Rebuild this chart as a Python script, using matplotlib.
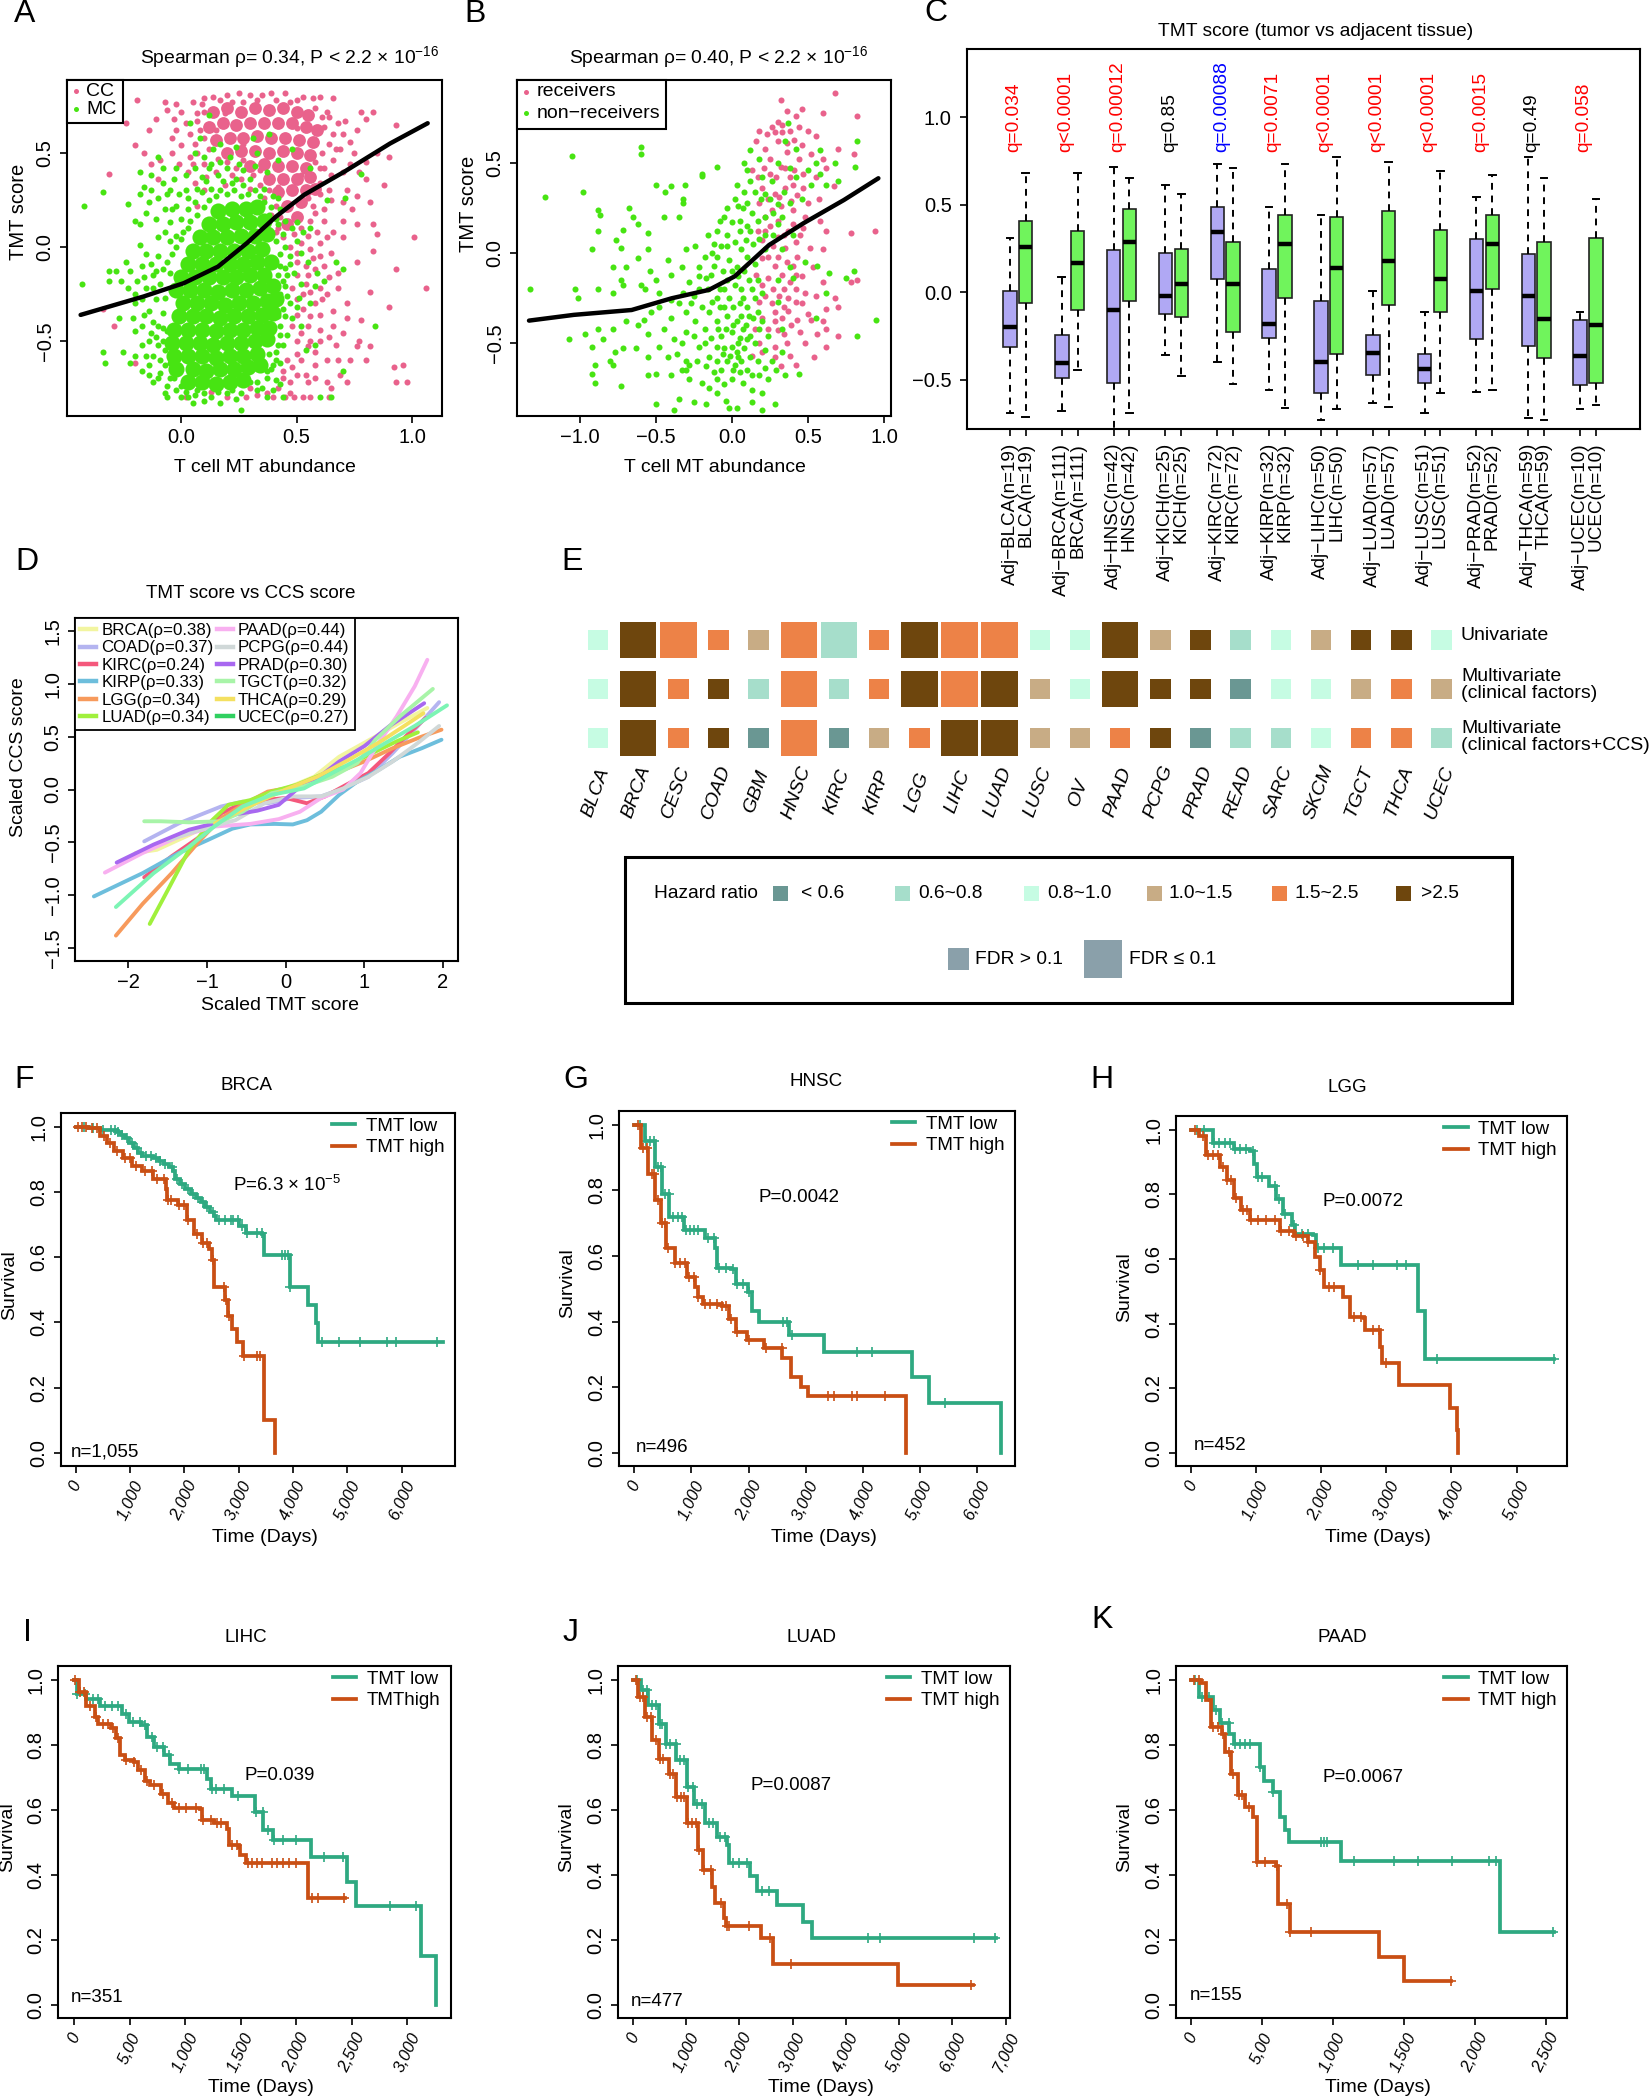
"""
Recreates the TMT score multi-panel figure (scatter, boxplot, heatmap, survival)
"""
import matplotlib
matplotlib.use('Agg')
import matplotlib.pyplot as plt
from matplotlib.patches import Rectangle
import numpy as np

plt.rcParams['font.family'] = ['Liberation Sans', 'DejaVu Sans']
plt.rcParams['mathtext.default'] = 'regular'
plt.rcParams['axes.unicode_minus'] = True

PINK = '#E9628C'
GREEN = '#47E412'
TEAL = '#2EA981'
ORANGE = '#C94F14'

# ---- Panel A, points read by eye (x, y) ----
a_cc_core = [(.14, .72), (.2, .74), (.26, .72), (.32, .74), (.38, .73), (.44, .74), (.5, .72), (.55, .7),
             (.12, .64), (.18, .66), (.24, .65), (.3, .66), (.36, .66), (.42, .66), (.48, .66), (.54, .64), (.59, .62),
             (.15, .57), (.21, .58), (.27, .58), (.33, .59), (.39, .58), (.45, .58), (.51, .57), (.57, .56),
             (.2, .5), (.26, .51), (.32, .51), (.38, .5), (.44, .51), (.5, .5), (.56, .49),
             (.3, .43), (.36, .44), (.42, .43), (.48, .43), (.54, .42), (.38, .36), (.44, .36), (.5, .36), (.56, .37),
             (.42, .29), (.48, .3), (.54, .3), (.58, .31), (.46, .22), (.52, .24), (.5, .16), (.46, .12)]
a_cc = [(-.19, .78), (-.07, .77), (-.06, .73), (-.02, .76), (.05, .77), (.09, .76), (.2, .81), (.25, .82), (.3, .81),
        (.35, .81), (.39, .82), (.45, .82), (.5, .78), (.57, .79), (.6, .8), (.66, .79), (.63, .72), (.78, .72),
        (.83, .72), (.8, .68), (-.24, .66), (-.02, .62), (.02, .66), (.07, .67), (.64, .69), (.68, .66), (.7, .6),
        (.73, .56), (.69, .52), (.75, .5), (.85, .5), (.93, .65), (.9, .48), (-.2, .54), (-.16, .5), (-.31, .39),
        (-.13, .44), (-.09, .46), (-.04, .5), (-.1, .36), (.07, .5), (.1, .44), (.66, .46), (.62, .42), (.7, .4),
        (.77, .4), (.8, .36), (.82, .24), (.88, .33), (.6, .28), (.65, .25), (.7, .24), (.74, .2), (.76, .12),
        (.58, .18), (.62, .14), (.66, .08), (.7, .05), (.55, .06), (.6, .02), (.65, -.03), (.52, .02), (.57, -.06),
        (.62, -.1), (.68, -.14), (.55, -.15), (.5, -.08), (1.01, .05), (.83, -.02), (.93, -.12), (.76, -.08),
        (.54, -.2), (.6, -.22), (.68, -.22), (.72, -.3), (1.06, -.22), (.82, -.24), (.5, -.28), (.58, -.3),
        (.6, -.36), (.66, -.34), (.72, -.38), (.78, -.39), (.55, -.42), (.6, -.44), (.64, -.48), (.77, -.5),
        (.76, -.53), (.5, -.5), (.56, -.5), (.82, -.53), (.5, -.57), (.52, -.6), (.55, -.53), (.63, -.6),
        (.68, -.6), (.73, -.6), (.8, -.6), (.58, -.63), (.92, -.64), (.96, -.63), (.54, -.68), (.44, -.7),
        (.47, -.72), (.55, -.72), (.63, -.72), (.65, -.75), (.93, -.72), (.98, -.72), (.42, -.75), (.47, -.78),
        (.4, -.8), (.45, -.8), (.49, -.8), (.53, -.8), (.56, -.8), (.64, -.8), (.13, -.77), (.2, -.8), (.28, -.8),
        (.33, -.79), (.37, -.78), (-.34, -.33), (-.29, -.42), (-.2, -.62), (.02, -.8), (.3, -.75), (.03, .4),
        (.06, .34), (.1, .3), (.07, .22), (.6, .34), (.64, .3), (.52, .38), (.42, .1), (.44, .05), (.47, 0)]
a_cc2 = [(.1, .79), (.14, .8), (.17, .78), (.22, .77), (.27, .77), (.33, .78), (.41, .78), (.47, .77), (.53, .8),
         (.58, .74), (.61, .69), (.62, .64), (.66, .6), (.64, .55), (.61, .5), (.65, .38), (.6, .42), (.58, .45),
         (.1, .72), (.07, .71), (.04, .6), (.08, .62), (.1, .58), (.06, .55), (.12, .52), (.16, .47), (.2, .45),
         (.24, .42), (.27, .46), (.22, .38), (.26, .36), (.31, .38), (.34, .33), (.38, .3), (.3, .31), (.36, .26),
         (.41, .22), (.39, .17), (.43, .16), (.41, .08), (.55, .26), (.57, .22), (.62, .2), (.56, .14), (.52, .1),
         (.49, .07), (.59, .08), (.63, .05), (.56, -.01), (.5, -.03), (.54, -.1), (.6, -.05), (.64, -.16), (.58, -.12),
         (.5, -.15), (.53, -.25), (.56, -.24), (.61, -.28), (.63, -.25), (.48, -.22), (.5, -.36), (.53, -.33),
         (.56, -.37), (.48, -.42), (.52, -.46), (.58, -.56), (.6, -.5), (.67, -.52), (.7, -.46), (.48, -.64),
         (.5, -.68), (.58, -.7), (.46, -.6), (.44, -.66), (.72, -.72), (.69, -.68), (.72, .3), (.73, .44), (.67, .52),
         (.71, .67), (.76, .62), (.8, .45), (.7, .14), (.76, .27), (.83, .12), (.85, .07), (.9, -.32), (.66, -.42),
         (-.14, .62), (-.11, .68), (-.03, .68), (.0, .72), (-.04, .58), (.0, .54), (.04, .48), (-.01, .44), (.05, .44),
         (.11, .37), (.15, .4), (.19, .33), (.42, .32), (.34, .41), (.27, .55), (.15, .62), (.19, .71), (.5, .63)]
a_mc_core = [(.03, -.72), (.09, -.72), (.15, -.73), (.21, -.72), (.27, -.71),
             (-.02, -.65), (.05, -.65), (.11, -.66), (.17, -.65), (.23, -.65), (.29, -.64), (.34, -.63),
             (-.03, -.58), (.03, -.58), (.09, -.58), (.15, -.59), (.21, -.58), (.27, -.58), (.33, -.57),
             (-.04, -.51), (.02, -.51), (.08, -.51), (.14, -.52), (.2, -.51), (.26, -.51), (.32, -.5), (.37, -.49),
             (-.03, -.44), (.03, -.44), (.09, -.44), (.15, -.45), (.21, -.44), (.27, -.44), (.33, -.43), (.38, -.43),
             (-.01, -.37), (.05, -.37), (.11, -.37), (.17, -.38), (.23, -.37), (.29, -.37), (.35, -.36), (.4, -.35),
             (.01, -.3), (.07, -.3), (.13, -.3), (.19, -.31), (.25, -.3), (.31, -.3), (.37, -.29), (.41, -.28),
             (-.02, -.23), (.04, -.23), (.1, -.23), (.16, -.24), (.22, -.23), (.28, -.23), (.34, -.22), (.4, -.21),
             (.0, -.16), (.06, -.16), (.12, -.16), (.18, -.16), (.24, -.16), (.3, -.15), (.36, -.15),
             (.03, -.09), (.09, -.09), (.15, -.09), (.21, -.09), (.27, -.09), (.33, -.08), (.39, -.08),
             (.05, -.02), (.11, -.02), (.17, -.02), (.23, -.02), (.29, -.02), (.35, -.01),
             (.08, .05), (.14, .05), (.2, .05), (.26, .06), (.32, .06), (.37, .07),
             (.12, .12), (.18, .12), (.24, .13), (.3, .13), (.36, .14), (.16, .19), (.22, .2), (.28, .2), (.33, .21)]
a_mc = [(-.42, .22), (-.34, .29), (-.43, -.2), (-.31, -.13), (-.31, -.18), (-.28, -.13), (-.26, -.18), (-.24, -.08),
        (-.2, -.25), (-.22, -.13), (-.17, -.1), (-.15, -.04), (-.2, -.3), (-.17, -.28), (-.27, -.38), (-.34, -.56),
        (-.33, -.62), (-.25, -.56), (-.22, -.62), (-.2, -.45), (-.21, -.38), (-.17, -.42), (-.14, -.5), (-.14, -.34),
        (-.12, -.22), (-.12, -.15), (-.1, -.05), (-.1, .05), (-.18, .01), (-.18, .12), (-.15, .18), (-.2, .14),
        (-.23, .23), (-.18, .28), (-.16, .32), (-.13, .3), (-.1, .26), (-.14, .24), (-.18, .4), (-.13, .38),
        (-.08, .34), (-.11, .15), (-.07, .2), (-.05, .13), (-.07, .08), (-.05, .03), (-.08, .42), (-.1, .48),
        (-.06, .28), (-.03, .36), (-.02, .22), (.0, .15), (.02, .3), (.03, .1), (.06, .42), (.09, .37), (.13, .44),
        (.16, .38), (.2, .42), (.24, .36), (.25, .44), (.3, .36), (.33, .5), (.38, .6), (.14, .52), (.24, .53),
        (.08, .58), (.04, .66), (.12, .7), (.36, .31), (.4, .27), (.43, .2), (.45, .14), (.42, .12), (.48, .1),
        (.5, .03), (.47, -.05), (.52, -.03), (.45, -.11), (.44, -.18), (.49, -.14), (.43, -.25), (.47, -.3),
        (.44, -.33), (.48, -.38), (.43, -.42), (.46, -.47), (.44, -.52), (.41, -.56), (.43, -.62), (.39, -.65),
        (.37, -.7), (.41, -.71), (.35, -.75), (.43, -.73), (.4, -.63), (.56, .42), (.63, .25), (.78, .39),
        (.71, .26), (.56, .1), (.67, -.08), (.7, -.12), (.59, -.14), (.58, -.21), (.62, -.18), (.56, -.3),
        (.52, -.42), (.58, -.52), (.84, -.42), (.52, -.2), (.7, -.66), (-.2, -.58), (-.12, -.58), (-.17, -.66),
        (-.14, -.63), (-.1, -.52), (-.09, -.6), (-.12, -.72), (-.09, -.67), (-.07, -.78), (-.05, -.7), (-.02, -.76),
        (-.06, -.8), (.0, -.8), (.03, -.8), (.06, -.79), (.05, -.83), (.1, -.78), (.1, -.82), (.17, -.83),
        (.2, -.78), (.26, -.78), (.24, -.81), (.26, -.87), (.33, -.76), (.37, -.8), (.4, -.76), (.44, -.8),
        (.65, -.8), (.6, -.8), (-.06, -.45), (-.08, -.35), (-.07, -.27), (-.05, -.14), (-.08, -.12), (-.1, -.42),
        (-.05, -.62), (-.07, -.55)]
a_mc2 = [(-.23, -.22), (-.19, -.18), (-.16, -.16), (-.13, -.09), (-.11, -.13), (-.15, -.22), (-.11, -.28), (-.09, -.2),
         (-.16, -.36), (-.12, -.4), (-.08, -.43), (-.13, -.46), (-.17, -.52), (-.11, -.48), (-.08, -.5), (-.05, -.52),
         (-.15, -.58), (-.07, -.63), (-.14, -.68), (-.1, -.7), (-.06, -.74), (-.03, -.7), (.0, -.74), (.02, -.77),
         (.07, -.76), (.13, -.8), (.16, -.77), (.22, -.76), (.3, -.72), (.33, -.72), (.37, -.66), (.41, -.6), (.38, -.57),
         (.42, -.52), (.39, -.5), (.43, -.47), (.4, -.43), (.45, -.37), (.42, -.37), (.46, -.26), (.45, -.21), (.42, -.15),
         (.46, -.15), (.43, -.1), (.47, -.09), (.43, -.04), (.45, .0), (.41, .03), (.44, .07), (.41, .15), (.39, .21),
         (.42, .26), (.36, .24), (.38, .17), (-.06, -.08), (-.04, -.04), (-.02, .0), (.0, .04), (.01, .08), (-.02, .06),
         (.04, .14), (.07, .17), (.03, .2), (.06, .24), (.1, .21), (.12, .25), (.15, .27), (.09, .29), (.13, .31),
         (.17, .3), (.2, .28), (.23, .3), (.26, .27), (.29, .28), (.32, .3), (.34, .27), (.18, .35), (.22, .34),
         (.27, .33), (.11, .35), (.07, .31), (.03, .26), (-.01, .28), (-.04, .2), (.12, .42), (.17, .45), (.21, .48),
         (.27, .41), (.32, .43), (.37, .4), (.1, .48), (.06, .5), (.17, .55), (.42, .46), (.48, .52), (.31, .58),
         (.02, .38), (-.02, .42), (-.05, .3), (.5, .13), (.53, .08), (.55, -.08), (.51, -.27), (.5, -.32), (.54, -.55)]

# ---- Panel B ----
b_rec = [(.68, .89), (.32, .85), (.46, .8), (.6, .78), (.36, .79), (.3, .73), (.33, .71), (.42, .76), (.18, .68),
         (.26, .7), (.33, .67), (.41, .63), (.55, .65), (.5, .68), (.82, .76), (.7, .58), (.8, .55), (.16, .62),
         (.22, .58), (.3, .62), (.36, .56), (.44, .52), (.52, .55), (.6, .52), (.13, .46), (.17, .42), (.25, .44),
         (.32, .48), (.38, .42), (.47, .44), (.55, .42), (.62, .47), (.67, .37), (.2, .36), (.28, .33), (.35, .36),
         (.43, .32), (.5, .28), (.57, .3), (.18, .28), (.26, .24), (.32, .26), (.4, .24), (.48, .2), (.58, .18),
         (.22, .2), (.3, .18), (.37, .12), (.45, .1), (.62, .12), (.17, .12), (.2, .07), (.27, .04), (.35, .03),
         (.43, -.02), (.6, .02), (.78, .11), (.94, .12), (.2, -.03), (.28, -.07), (.33, -.12), (.4, -.07), (.46, -.13),
         (.53, -.08), (.16, -.12), (.2, -.18), (.27, -.2), (.34, -.2), (.42, -.2), (.48, -.22), (.78, -.16), (.82, -.15),
         (.18, -.27), (.26, -.28), (.34, -.3), (.42, -.27), (.37, -.32), (.5, -.34), (.62, -.31), (.7, -.3), (.2, -.36),
         (.28, -.38), (.43, -.37), (.52, -.37), (.6, -.38), (.15, -.42), (.3, -.43), (.62, -.42), (.56, -.45),
         (.18, -.5), (.28, -.52), (.36, -.5), (.48, -.5), (.7, -.46), (.62, -.52), (.13, -.57), (.2, -.55), (.28, -.58),
         (.38, -.57), (.54, -.58), (.32, -.63), (.42, -.62)]
b_rec2 = [(.23, .66), (.28, .67), (.38, .68), (.44, .7), (.46, .6), (.36, .61), (.25, .52), (.21, .47), (.29, .42),
          (.35, .47), (.41, .46), (.4, .38), (.47, .36), (.24, .3), (.31, .31), (.39, .29), (.22, .12), (.25, .15),
          (.3, .09), (.34, .1), (.4, .16), (.42, .06), (.47, .14), (.51, .03), (.24, -.02), (.3, -.02), (.36, -.05),
          (.42, -.12), (.38, -.16), (.31, -.24), (.24, -.14), (.22, -.24), (.37, -.25), (.46, -.28), (.28, -.33),
          (.33, -.36), (.39, -.4), (.24, -.42), (.45, -.44), (.34, -.45), (.55, -.24), (.6, -.16), (.68, -.25)]
b_non = [(-.6, .59), (-.6, .55), (-1.05, .54), (-.98, .34), (-1.23, .31), (-.5, .38), (-.4, .37), (-.31, .38),
         (-.32, .28), (-.32, .3), (-.2, .44), (-.2, .43), (-.1, .48), (-.44, .34), (-.45, .2), (-.35, .2),
         (-.88, .24), (-.87, .21), (-.68, .25), (-.62, .16), (-.65, .2), (-.72, .13), (-.88, .12), (-.76, .07),
         (-.73, .03), (-.55, .11), (-.92, .02), (-.55, .02), (-.62, -.03), (-.7, -.08), (-.78, -.08), (-.73, -.15),
         (-1.33, -.2), (-1.03, -.2), (-1.01, -.25), (-.88, -.2), (-.78, -.22), (-.72, -.18), (-.6, -.18), (-.57, -.2),
         (-.48, -.22), (-.4, -.12), (-.42, -.04), (-.33, -.08), (-.28, -.16), (-.22, -.08), (-.18, -.02), (-.12, .05),
         (-.1, .12), (-.08, .18), (-.16, .1), (-.05, .2), (-.03, .25), (.02, .3), (.03, .38), (.08, .34), (.1, .28),
         (.12, .4), (.18, .52), (.15, .34), (.2, .42), (.08, .5), (.12, .57), (.3, .5), (.37, .72), (.35, .62),
         (.42, .58), (.55, .5), (.58, .57), (.82, .62), (.62, .38), (.7, .4), (.68, .5), (.81, .48), (.25, .3), (.22, .2),
         (.3, .16), (.38, .28), (.05, .18), (.1, .15), (.18, .08), (.22, .1), (.27, .1), (-.03, .1), (.02, .06), (.06, .02),
         (.1, -.02), (.15, -.06), (.03, -.08), (-.02, -.04), (-.06, -.1), (-.1, -.02), (-.14, -.12), (-.03, -.15),
         (.02, -.18), (.06, -.2), (-.08, -.2), (-.16, -.2), (-.25, -.24), (-.2, -.3), (-.13, -.27), (-.08, -.3),
         (-.02, -.25), (.05, -.28), (.1, -.3), (.15, -.25), (.2, -.22), (-.35, -.28), (-.3, -.33), (-.24, -.38),
         (-.18, -.42), (-.1, -.38), (-.03, -.35), (.03, -.38), (.09, -.4), (.14, -.36), (-.4, -.36), (-.45, -.42),
         (-.38, -.48), (-.3, -.44), (-.22, -.52), (-.14, -.47), (-.07, -.46), (0, -.44), (.05, -.47), (.12, -.46),
         (.18, -.42), (-.05, -.53), (0, -.52), (.03, -.55), (.08, -.53), (.12, -.58), (.17, -.6), (.22, -.54),
         (.26, -.6), (.22, -.64), (-.03, -.6), (.02, -.62), (.06, -.6), (.1, -.65), (-.15, -.58), (-.1, -.6),
         (-.3, -.6), (-.33, -.65), (-.28, -.62), (-.42, -.58), (-.48, -.52), (-.55, -.45), (-.62, -.4), (-.7, -.38),
         (-.53, -.33), (-.58, -.37), (-.78, -.42), (-.88, -.42), (-.85, -.48), (-.97, -.45), (-1.07, -.48),
         (-.92, -.52), (-.77, -.55), (-.72, -.53), (-.63, -.53), (-.55, -.58), (-.8, -.6), (-.9, -.62), (-.92, -.67),
         (-.78, -.62), (-.5, -.67), (-.55, -.68), (-.4, -.68), (-.28, -.7), (-.3, -.65), (-.2, -.72), (-.1, -.7),
         (-.05, -.73), (0, -.7), (.07, -.72), (.13, -.76), (.2, -.78), (-.1, -.78), (-.15, -.75), (-.04, -.82),
         (-.02, -.86), (.03, -.86), (.13, -.83), (.2, -.87), (.28, -.84), (-.25, -.83), (-.17, -.84), (-.38, -.87),
         (-.35, -.81), (-.5, -.84), (-.9, -.72), (-.73, -.74), (.35, -.68), (.44, -.67), (.82, -.46), (.95, -.37),
         (.62, -.22), (.64, -.11), (.8, -.1), (.56, -.07), (.75, -.14), (.38, -.08), (.33, .02), (.12, .12), (.55, -.36),
         (.3, -.27), (.4, -.14), (.48, -.05)]
b_non2 = [(.05, .12), (.07, .25), (.13, .22), (.17, .18), (.19, .3), (.14, .05), (.09, .07), (-.07, .04), (-.12, -.07),
          (-.17, -.14), (-.05, -.2), (.0, -.1), (.04, -.13), (.08, -.1), (.11, -.15), (.17, -.15), (.13, -.2), (.07, -.25),
          (.01, -.3), (-.05, -.3), (-.1, -.25), (-.15, -.33), (-.09, -.42), (-.04, -.42), (.01, -.4), (.06, -.35),
          (.11, -.35), (.17, -.33), (.2, -.38), (.07, -.42), (.15, -.5), (.1, -.48), (.04, -.5), (-.01, -.57),
          (.04, -.58), (-.06, -.56), (-.1, -.52), (-.18, -.5), (-.25, -.46), (-.33, -.5), (-.36, -.56), (-.23, -.6),
          (-.17, -.63), (-.12, -.66), (-.07, -.65), (.01, -.65), (.05, -.66), (.13, -.68), (.18, -.68), (.24, -.7),
          (.29, -.65), (.33, -.55), (.33, -.42), (.24, -.46), (-.27, -.28), (-.22, -.2), (-.32, -.22), (-.4, -.26),
          (-.48, -.3), (-.5, -.15), (-.54, -.1), (-.3, .02), (-.24, .04), (-.22, -.13), (-.13, .0), (-.03, .04),
          (.0, .17), (.04, .26), (.1, .46), (.22, .33), (.26, .4), (.3, .27), (.34, .34), (.38, .47), (.42, .42),
          (.46, .3), (.5, .46), (.52, .38), (.58, .44), (.33, .2), (.4, .1), (.27, .22), (.22, .02), (.3, -.15)]

# ---- Panel C, one row per box: whisker top, q3, median, q1, whisker bottom ----
c_groups = ['BLCA', 'BRCA', 'HNSC', 'KICH', 'KIRC', 'KIRP', 'LIHC', 'LUAD', 'LUSC', 'PRAD', 'THCA', 'UCEC']
c_n = [19, 111, 42, 25, 72, 32, 50, 57, 51, 52, 59, 10]
c_adj = [(.31, .01, -.195, -.31, -.69), (.09, -.245, -.405, -.49, -.68), (.715, .24, -.10, -.52, -.85),
         (.61, .225, -.02, -.125, -.36), (.73, .49, .345, .075, -.40), (.49, .135, -.18, -.26, -.555),
         (.44, -.05, -.395, -.575, -.73), (.005, -.245, -.345, -.47, -.63), (-.11, -.35, -.435, -.52, -.69),
         (.545, .305, .005, -.265, -.57), (.77, .22, -.02, -.305, -.72), (-.11, -.16, -.365, -.53, -.665)]
c_tumor = [(.68, .41, .26, -.06, -.71), (.68, .35, .165, -.10, -.445), (.65, .475, .29, -.05, -.69),
           (.56, .25, .05, -.14, -.48), (.71, .285, .045, -.225, -.525), (.735, .44, .275, -.035, -.66),
           (.77, .43, .14, -.35, -.665), (.745, .465, .18, -.07, -.655), (.69, .355, .075, -.11, -.575),
           (.67, .44, .275, .02, -.56), (.655, .29, -.15, -.375, -.73), (.53, .31, -.185, -.52, -.645)]
c_q = ['q=0.034', 'q<0.0001', 'q=0.00012', 'q=0.85', 'q=0.00088', 'q=0.0071', 'q<0.0001', 'q<0.0001',
       'q<0.0001', 'q=0.0015', 'q=0.49', 'q=0.058']
c_q_col = ['red', 'red', 'red', 'black', 'blue', 'red', 'red', 'red', 'red', 'red', 'black', 'red']

# ---- Panel D, loess curves (x, y) ----
d_curves = {
    'BRCA': [(-1.91, -.6), (-1.64, -.57), (-1.23, -.43), (-.82, -.27), (-.45, -.13), (0, .01), (.36, .12), (.68, .31),
             (1.14, .5), (1.45, .63), (1.8, .77)],
    'COAD': [(-1.8, -.49), (-1.36, -.32), (-.82, -.16), (-.55, -.115), (-.23, -.13), (.09, -.08), (.45, -.065),
             (.73, .01), (1.05, .12), (1.36, .345), (1.68, .6), (1.95, .825)],
    'KIRC': [(-1.8, -.83), (-1.45, -.63), (-1.09, -.445), (-.82, -.225), (-.55, -.13), (-.27, -.1), (0, -.08),
             (.27, -.13), (.5, -.065), (.77, .045), (1.05, .155), (1.32, .345), (1.59, .55), (1.78, .675)],
    'KIRP': [(-2.44, -1.01), (-1.82, -.79), (-1.36, -.6), (-1, -.48), (-.68, -.37), (-.45, -.33), (-.14, -.325),
             (.09, -.33), (.27, -.29), (.45, -.21), (.68, -.05), (.91, .075), (1.18, .185), (1.45, .31), (1.73, .39),
             (1.98, .47)],
    'LGG': [(-2.16, -1.38), (-1.82, -1.08), (-1.45, -.79), (-1.09, -.48), (-.82, -.27), (-.55, -.145), (-.23, -.02),
            (0, .01), (.32, .075), (.68, .17), (1, .265), (1.36, .39), (1.73, .5), (1.98, .565)],
    'LUAD': [(-1.73, -1.27), (-1.5, -.95), (-1.23, -.57), (-.95, -.3), (-.73, -.145), (-.45, -.1), (-.18, -.02),
             (.14, .045), (.45, .14), (.77, .22), (1.09, .34), (1.41, .455), (1.68, .54)],
    'PAAD': [(-2.3, -.785), (-1.82, -.6), (-1.36, -.445), (-.91, -.35), (-.45, -.325), (-.09, -.28), (.18, -.21),
             (.45, -.08), (.73, 0), (.95, .155), (1.18, .44), (1.41, .69), (1.64, .975), (1.8, 1.225)],
    'PCPG': [(-1.5, -.48), (-1.09, -.38), (-.64, -.29), (-.27, -.13), (.09, -.065), (.45, -.065), (.73, .01),
             (1.05, .12), (1.36, .265), (1.68, .44), (1.95, .6)],
    'PRAD': [(-2.15, -.69), (-1.68, -.52), (-1.23, -.38), (-.91, -.32), (-.68, -.24), (-.36, -.2), (-.09, -.145),
             (.14, 0), (.41, .11), (.68, .265), (1, .41), (1.32, .6), (1.76, .815)],
    'TGCT': [(-1.8, -.3), (-1.59, -.3), (-1.23, -.31), (-.82, -.3), (-.55, -.21), (-.18, -.035), (.23, .03), (.59, .12),
             (.91, .25), (1.14, .47), (1.45, .69), (1.87, .95)],
    'THCA': [(-.9, -.32), (-.5, -.17), (0, 0), (.4, .12), (.8, .28), (1.2, .45), (1.75, .72)],
    'UCEC': [(-2.16, -1.11), (-1.68, -.79), (-1.23, -.54), (-.91, -.35), (-.55, -.16), (-.18, -.05), (.23, .01),
             (.59, .155), (.91, .28), (1.27, .44), (1.64, .6), (2.05, .795)],
}
d_rho = [.38, .37, .24, .33, .34, .34, .44, .44, .30, .32, .29, .27]
d_colors = ['#F2F5A0', '#B4B4F0', '#F4587C', '#6DBEDC', '#F79A5C', '#A0F03C',
            '#F8B0F0', '#D0D8D8', '#A868F0', '#A8F4A8', '#F4E060', '#7CF4B4']
d_legend_colors = d_colors[:-1] + ['#30D060']

# ---- Panel E ----
e_cancers = ['BLCA', 'BRCA', 'CESC', 'COAD', 'GBM', 'HNSC', 'KIRC', 'KIRP', 'LGG', 'LIHC', 'LUAD', 'LUSC', 'OV',
             'PAAD', 'PCPG', 'PRAD', 'READ', 'SARC', 'SKCM', 'TGCT', 'THCA', 'UCEC']
e_hr_labels = ['< 0.6', '0.6~0.8', '0.8~1.0', '1.0~1.5', '1.5~2.5', '>2.5']
e_hr_colors = ['#6A9793', '#A6DECB', '#C6FCE3', '#C8AC85', '#ED8247', '#6E460D']
e_hr_uni = [2, 5, 4, 4, 3, 4, 1, 4, 5, 4, 4, 2, 2, 5, 3, 5, 1, 2, 3, 5, 5, 2]
e_hr_clin = [2, 5, 4, 5, 1, 4, 1, 4, 5, 4, 5, 3, 2, 5, 5, 5, 0, 2, 2, 3, 4, 3]
e_hr_ccs = [2, 5, 4, 5, 0, 4, 0, 3, 4, 5, 5, 3, 3, 4, 5, 0, 1, 1, 2, 4, 4, 1]
e_sig_uni = [0, 1, 1, 0, 0, 1, 1, 0, 1, 1, 1, 0, 0, 1, 0, 0, 0, 0, 0, 0, 0, 0]
e_sig_clin = [0, 1, 0, 0, 0, 1, 0, 0, 1, 1, 1, 0, 0, 1, 0, 0, 0, 0, 0, 0, 0, 0]
e_sig_ccs = [0, 1, 0, 0, 0, 1, 0, 0, 0, 1, 1, 0, 0, 0, 0, 0, 0, 0, 0, 0, 0, 0]

# ---- Panels F-K, survival curves (days, survival) and censor times ----
f_low = [(0, 1), (243, .995), (441, .99), (770, .985), (830, .975), (900, .965), (980, .95), (1066, .935), (1150, .92),
         (1230, .91), (1428, .905), (1530, .895), (1625, .885), (1710, .875), (1790, .865), (1822, .84), (1920, .825),
         (2020, .81), (2120, .795), (2217, .78), (2300, .77), (2382, .755), (2470, .74), (2546, .725), (2579, .715),
         (3007, .695), (3138, .675), (3434, .672), (3467, .607), (3941, .508), (4270, .455), (4421, .398), (4454, .34),
         (6757, .34)]
f_high = [(0, 1), (230, .995), (440, .97), (572, .95), (704, .925), (868, .905), (1033, .88), (1230, .865), (1428, .84),
          (1658, .81), (1690, .775), (1888, .76), (2053, .715), (2184, .705), (2184, .67), (2316, .645), (2447, .625),
          (2513, .59), (2546, .51), (2710, .51), (2756, .47), (2809, .42), (2875, .38), (2974, .34), (3072, .296),
          (3467, .10), (3664, .10), (3664, 0)]
f_low_c = [150, 320, 500, 650, 720, 780, 860, 950, 1040, 1130, 1200, 1290, 1380, 1470, 1560, 1650, 1780, 1860, 1960, 2060,
           2160, 2260, 2350, 2420, 2520, 2640, 2750, 2850, 2900, 2980, 3060, 3150, 3340, 3420, 3800, 3860, 3900, 3950,
           4540, 4840, 5240, 5730, 5890, 6650]
f_high_c = [50, 120, 200, 300, 400, 520, 640, 760, 900, 1000, 1120, 1280, 1400, 1500, 1620, 1700, 1760, 1900, 2000, 2060,
            2230, 2350, 2420, 2520, 2730, 2770, 2830, 3090, 3330, 3390]

g_low = [(0, 1), (185, .95), (369, .87), (492, .79), (615, .72), (861, .68), (1230, .655), (1415, .625), (1451, .563),
         (1697, .56), (1784, .515), (1993, .49), (2066, .433), (2177, .40), (2706, .36), (3321, .308), (4871, .232),
         (5166, .153), (6421, .153), (6421, 0)]
g_high = [(0, 1), (123, .93), (246, .85), (369, .77), (467, .70), (553, .625), (713, .58), (922, .535), (1070, .505),
          (1107, .474), (1205, .453), (1537, .448), (1660, .408), (1784, .367), (1968, .343), (2276, .319), (2583, .29),
          (2743, .23), (2927, .202), (3050, .174), (4760, .174), (4760, 0)]
g_low_c = [100, 200, 280, 340, 420, 470, 540, 600, 680, 760, 830, 900, 970, 1040, 1120, 1290, 1400, 1480, 1600, 1720,
           1800, 1900, 2000, 2600, 2680, 2760, 3900, 4160, 5450]
g_high_c = [60, 150, 220, 300, 350, 410, 480, 540, 590, 720, 800, 880, 960, 1040, 1120, 1240, 1320, 1440, 1540, 1600,
            1700, 1800, 2000, 2300, 2580, 3400, 3500, 3820, 3900, 4400]

h_low = [(0, 1), (183, 1), (344, .96), (667, .94), (914, .935), (968, .894), (1022, .853), (1204, .827), (1312, .786),
         (1419, .74), (1559, .704), (1602, .676), (1882, .673), (1925, .634), (2312, .582), (3495, .44), (3591, .292),
         (5581, .292)]
h_high = [(0, 1), (129, .98), (237, .92), (452, .884), (559, .843), (667, .79), (774, .75), (914, .72), (1312, .72),
          (1366, .688), (1581, .67), (1796, .653), (1903, .606), (1978, .565), (2043, .512), (2333, .481), (2441, .421),
          (2656, .419), (2677, .38), (2903, .329), (2935, .277), (3194, .209), (3978, .14), (4086, .072), (4097, 0)]
h_low_c = [100, 200, 350, 430, 520, 600, 680, 760, 850, 950, 1030, 1090, 1290, 1350, 1450, 1580, 1700, 1800, 1950, 2050,
           2180, 2570, 2800, 3160, 3300, 3780, 5580]
h_high_c = [60, 180, 260, 340, 420, 500, 560, 620, 700, 800, 860, 920, 1030, 1150, 1300, 1380, 1500, 1620, 1720, 1800,
            1980, 2120, 2200, 2500, 2620, 2800, 2890, 3000]

i_low = [(0, 1), (26, .957), (106, .94), (235, .92), (363, .92), (428, .895), (492, .87), (605, .86), (653, .824),
         (717, .793), (814, .768), (862, .74), (942, .724), (1135, .724), (1199, .696), (1232, .663), (1424, .643),
         (1633, .594), (1704, .537), (1794, .507), (2132, .455), (2460, .379), (2543, .304), (3122, .151), (3257, .151),
         (3257, 0)]
i_high = [(0, 1), (42, .962), (106, .92), (186, .885), (219, .865), (331, .85), (379, .82), (412, .768), (460, .752),
          (540, .747), (572, .722), (637, .69), (685, .676), (781, .648), (846, .62), (904, .604), (1135, .602),
          (1151, .568), (1264, .558), (1376, .542), (1392, .491), (1482, .486), (1495, .461), (1553, .437), (2106, .33),
          (2437, .33)]
i_low_c = [30, 100, 170, 220, 280, 340, 400, 470, 530, 590, 640, 700, 750, 800, 860, 950, 1030, 1140, 1170, 1240, 1280,
           1350, 1480, 1640, 1700, 1750, 1800, 1880, 2000, 2250, 2420, 2850, 3080]
i_high_c = [10, 50, 90, 140, 200, 260, 310, 350, 400, 470, 540, 600, 660, 720, 800, 880, 950, 1010, 1100, 1160, 1230,
            1290, 1320, 1420, 1470, 1570, 1600, 1650, 1690, 1780, 1830, 1880, 1940, 2000, 2140, 2200, 2430]

j_low = [(0, 1), (158, .967), (290, .921), (488, .865), (620, .803), (817, .752), (1015, .67), (1147, .619), (1345, .558),
         (1582, .517), (1766, .491), (1806, .437), (2201, .397), (2333, .349), (2702, .307), (3190, .256), (3361, .205),
         (6815, .205)]
j_high = [(0, 1), (92, .948), (224, .885), (356, .814), (488, .757), (685, .711), (817, .64), (1015, .558), (1213, .476),
          (1318, .415), (1476, .363), (1542, .312), (1714, .266), (1740, .243), (2399, .205), (2623, .125), (4970, .062),
          (6393, .062)]
j_low_c = [80, 180, 270, 350, 430, 500, 540, 620, 700, 800, 880, 950, 1040, 1120, 1200, 1300, 1420, 1510, 1640, 1720,
           1880, 2000, 2140, 2420, 2560, 4410, 4640, 6400, 6800]
j_high_c = [60, 130, 190, 260, 340, 430, 500, 560, 690, 760, 830, 900, 950, 1030, 1110, 1190, 1240, 1340, 1470, 1660,
            1760, 1800, 2180, 2580, 2960, 6350]

k_low = [(0, 1), (59, .947), (158, .906), (207, .866), (271, .834), (306, .803), (478, .803), (488, .732), (518, .69),
         (577, .656), (626, .578), (661, .537), (690, .5), (1055, .443), (2175, .223), (2559, .223)]
k_high = [(0, 1), (74, .99), (108, .937), (143, .855), (222, .834), (242, .778), (281, .711), (330, .645), (380, .609),
          (439, .578), (468, .44), (602, .426), (611, .309), (700, .223), (1326, .148), (1499, .074), (1834, .074)]
k_low_c = [30, 80, 130, 180, 220, 270, 310, 350, 380, 420, 490, 580, 920, 940, 960, 1150, 1430, 1600, 1840, 2100, 2150,
           2550]
k_high_c = [20, 60, 160, 190, 230, 270, 300, 340, 360, 410, 470, 520, 610, 680, 700, 850, 1830]

km_panels = [
    ('BRCA', f_low, f_high, f_low_c, f_high_c, 'TMT high', range(0, 7000, 1000), (-269, 6980),
     ['0', '1,000', '2,000', '3,000', '4,000', '5,000', '6,000'], 'P=6.3 × 10$^{-5}$', 'n=1,055'),
    ('HNSC', g_low, g_high, g_low_c, g_high_c, 'TMT high', range(0, 7000, 1000), (-270, 6670),
     ['0', '1,000', '2,000', '3,000', '4,000', '5,000', '6,000'], 'P=0.0042', 'n=496'),
    ('LGG', h_low, h_high, h_low_c, h_high_c, 'TMT high', range(0, 6000, 1000), (-227, 5775),
     ['0', '1,000', '2,000', '3,000', '4,000', '5,000'], 'P=0.0072', 'n=452'),
    ('LIHC', i_low, i_high, i_low_c, i_high_c, 'TMThigh', range(0, 3500, 500), (-144, 3395),
     ['0', '5,00', '1,000', '1,500', '2,000', '2,500', '3,000'], 'P=0.039', 'n=351'),
    ('LUAD', j_low, j_high, j_low_c, j_high_c, 'TMT high', range(0, 8000, 1000), (-280, 7080),
     ['0', '1,000', '2,000', '3,000', '4,000', '5,000', '6,000', '7,000'], 'P=0.0087', 'n=477'),
    ('PAAD', k_low, k_high, k_low_c, k_high_c, 'TMT high', range(0, 3000, 500), (-104, 2650),
     ['0', '5,00', '1,000', '1,500', '2,000', '2,500'], 'P=0.0067', 'n=155'),
]
# left, top, right, bottom of each survival panel, in output pixels
km_boxes = [(61, 1113, 455, 1466), (619, 1111, 1015, 1466), (1176, 1116, 1567, 1466),
            (58, 1666, 451, 2018), (618, 1666, 1010, 2018), (1176, 1666, 1567, 2018)]
# title xy, xlabel xy, ylabel xy, P xy, n xy
km_text = [((247, 1085), (265, 1537), (10, 1285), (233, 1185), (71, 1452)),
           ((816, 1082), (824, 1537), (568, 1283), (759, 1198), (636, 1448)),
           ((1347, 1087), (1378, 1537), (1125, 1287), (1322, 1201), (1194, 1446)),
           ((246, 1638), (261, 2088), (8, 1837), (245, 1776), (71, 1997)),
           ((812, 1638), (821, 2088), (567, 1837), (750, 1786), (631, 2002)),
           ((1342, 1638), (1378, 2088), (1125, 1837), (1323, 1777), (1190, 1996))]

W, H = 1650, 2100
fig = plt.figure(figsize=(W / 100, H / 100), dpi=100)


def box_axes(left, top, right, bottom):
    ax = fig.add_axes([left / W, 1 - bottom / H, (right - left) / W, (bottom - top) / H])
    for sp in ax.spines.values():
        sp.set_linewidth(1.5)
    ax.tick_params(width=1.2, length=5, labelsize=14.5)
    return ax


def rot_y(ax, pad=4):
    ax.tick_params(axis='y', pad=pad)
    for lab in ax.get_yticklabels():
        lab.set_rotation(90)
        lab.set_va('center')


def scatter(ax, pts, color, size=19):
    arr = np.array(pts)
    ax.scatter(arr[:, 0], arr[:, 1], s=size, c=color, linewidths=0, zorder=2)


def unzip(pts):
    arr = np.array(pts, dtype=float)
    return arr[:, 0], arr[:, 1]


# A
ax = box_axes(67, 80, 442, 416)
scatter(ax, a_cc_core, PINK, 85)
scatter(ax, a_cc, PINK)
scatter(ax, a_cc2, PINK)
scatter(ax, a_mc_core, GREEN, 135)
scatter(ax, a_mc, GREEN)
scatter(ax, a_mc2, GREEN)
a_line = [(-.435, -.362), (-.162, -.264), (.012, -.193), (.16, -.105), (.285, .02), (.41, .16), (.533, .277), (.707, .40),
          (.905, .55), (1.068, .658)]
ax.plot(*unzip(a_line), color='black', lw=3.2, zorder=3, solid_capstyle='round')
ax.set_xlim(-.494, 1.13)
ax.set_ylim(-.90, .888)
ax.set_xticks([0, .5, 1])
ax.set_xticklabels(['0.0', '0.5', '1.0'])
ax.set_yticks([-.5, 0, .5])
ax.set_yticklabels(['−0.5', '0.0', '0.5'])
rot_y(ax)

# B
ax = box_axes(517, 80, 891, 416)
scatter(ax, b_rec, PINK)
scatter(ax, b_rec2, PINK)
scatter(ax, b_non, GREEN)
scatter(ax, b_non2, GREEN)
b_line = [(-1.335, -.376), (-1.04, -.344), (-.66, -.317), (-.397, -.252), (-.151, -.205), (.018, -.13), (.244, .044),
          (.47, .165), (.736, .294), (.963, .415)]
ax.plot(*unzip(b_line), color='black', lw=3.2, zorder=3, solid_capstyle='round')
ax.set_xlim(-1.414, 1.046)
ax.set_ylim(-.906, .961)
ax.set_xticks([-1, -.5, 0, .5, 1])
ax.set_xticklabels(['−1.0', '−0.5', '0.0', '0.5', '1.0'])
ax.set_yticks([-.5, 0, .5])
ax.set_yticklabels(['−0.5', '0.0', '0.5'])
rot_y(ax)

# C
ax = box_axes(967, 49, 1640, 429)
step = 3.28
for i in range(len(c_groups)):
    for j, (vals, col) in enumerate([(c_adj[i], '#B0A8F4'), (c_tumor[i], '#70F45C')]):
        stats = [dict(whishi=vals[0], q3=vals[1], med=vals[2], q1=vals[3], whislo=vals[4], fliers=[])]
        ax.bxp(stats, positions=[i * step + j], widths=.85, patch_artist=True, showfliers=False,
               boxprops=dict(facecolor=col, edgecolor='#222222', linewidth=1.2),
               medianprops=dict(color='black', linewidth=3.2, solid_capstyle='butt'),
               whiskerprops=dict(color='black', linestyle=(0, (3.5, 3)), linewidth=1.4),
               capprops=dict(color='black', linewidth=1.4), capwidths=.42, manage_ticks=False)
    ax.text(i * step + .25, .80, c_q[i], color=c_q_col[i], rotation=90, ha='center', va='bottom', fontsize=13.8)
ax.set_xlim(-2.72, 39.87)
ax.set_ylim(-.78, 1.389)
pos = [v for i in range(len(c_groups)) for v in (i * step, i * step + 1)]
labs = [s for g, n in zip(c_groups, c_n) for s in (f'Adj−{g}(n={n})', f'{g}(n={n})')]
ax.set_xticks(pos)
ax.set_xticklabels(labs, rotation=90, fontsize=13.6)
ax.tick_params(axis='x', pad=5)
ax.tick_params(axis='y', pad=6)
ax.set_yticks([-.5, 0, .5, 1])
ax.set_yticklabels(['−0.5', '0.0', '0.5', '1.0'])

# D
ax = box_axes(75, 618, 458, 961)
for (name, pts), col, rho, leg_col in zip(d_curves.items(), d_colors, d_rho, d_legend_colors):
    ax.plot(*unzip(pts), color=col, lw=2.8, solid_capstyle='round', solid_joinstyle='round')
    ax.plot([], [], color=leg_col, lw=3.2, label=f'{name}(ρ={rho:.2f})')
ax.set_xlim(-2.68, 2.19)
ax.set_ylim(-1.62, 1.62)
ax.set_xticks([-2, -1, 0, 1, 2])
ax.set_xticklabels(['−2', '−1', '0', '1', '2'])
ax.set_yticks([-1.5, -1, -.5, 0, .5, 1, 1.5])
ax.set_yticklabels(['−1.5', '−1.0', '−0.5', '0.0', '0.5', '1.0', '1.5'])
rot_y(ax)
leg = ax.legend(ncol=2, loc='upper left', bbox_to_anchor=(0, 1), borderaxespad=0, fontsize=12.2, fancybox=False,
                framealpha=1, edgecolor='black', labelspacing=.14, columnspacing=.2, handlelength=.95,
                handletextpad=.3, borderpad=.3)
leg.get_frame().set_linewidth(1.3)

# E
ax = fig.add_axes([0, 0, 1, 1], zorder=1)
ax.set_xlim(0, W)
ax.set_ylim(H, 0)
ax.axis('off')
spacing = 40.17
x0 = 598
for row_y, hrs, sigs in zip([640, 689, 738], [e_hr_uni, e_hr_clin, e_hr_ccs], [e_sig_uni, e_sig_clin, e_sig_ccs]):
    for c, (hr, sig) in enumerate(zip(hrs, sigs)):
        side = 36.5 if sig else 20.5
        ax.add_patch(Rectangle((x0 + c * spacing - side / 2, row_y - side / 2), side, side, fc=e_hr_colors[hr], ec='none'))
for c, name in enumerate(e_cancers):
    ax.text(x0 + c * spacing - 2, 792, name, rotation=70, style='italic', ha='center', va='center', fontsize=14)
ax.text(1461, 635, 'Univariate', va='center', fontsize=14)
ax.text(1461, 685, 'Multivariate\n(clinical factors)', va='center', fontsize=14, linespacing=1.0)
ax.text(1461, 737, 'Multivariate\n(clinical factors+CCS)', va='center', fontsize=14, linespacing=1.0)
ax.add_patch(Rectangle((625, 857), 887, 146, fc='none', ec='black', lw=2.2))
ax.text(654, 893, 'Hazard ratio', va='center', fontsize=13.8)
for col, lab, sx, tx in zip(e_hr_colors, e_hr_labels, [780, 902, 1031, 1154, 1279.5, 1403],
                            [801, 918, 1047, 1168, 1295, 1421]):
    ax.add_patch(Rectangle((sx - 7.5, 893 - 7.5), 15, 15, fc=col, ec='none'))
    ax.text(tx, 893, lab, va='center', fontsize=13.8)
ax.add_patch(Rectangle((958 - 10.5, 959 - 11), 21, 22, fc='#8AA0AA', ec='none'))
ax.text(975, 959, 'FDR > 0.1', va='center', fontsize=13.8)
ax.add_patch(Rectangle((1103 - 19, 959 - 19), 38, 38, fc='#8AA0AA', ec='none'))
ax.text(1129, 959, 'FDR ≤ 0.1', va='center', fontsize=13.8)

# panel A/B/C/D text and the legends of A and B
ov = ax
ov.text(289.5, 57, 'Spearman ρ= 0.34, P < 2.2 × 10$^{-16}$', ha='center', va='center', fontsize=13.9)
ov.text(719, 57, 'Spearman ρ= 0.40, P < 2.2 × 10$^{-16}$', ha='center', va='center', fontsize=13.9)
ov.text(264.6, 467, 'T cell MT abundance', ha='center', va='center', fontsize=14)
ov.text(714.7, 467, 'T cell MT abundance', ha='center', va='center', fontsize=14)
ov.text(19, 212, 'TMT score', rotation=90, ha='center', va='center', fontsize=14.5)
ov.text(468, 204, 'TMT score', rotation=90, ha='center', va='center', fontsize=14.5)
ov.text(1316, 31, 'TMT score (tumor vs adjacent tissue)', ha='center', va='center', fontsize=13.8)
ov.text(251, 593, 'TMT score vs CCS score', ha='center', va='center', fontsize=13.6)
ov.text(280, 1005, 'Scaled TMT score', ha='center', va='center', fontsize=14)
ov.text(18.6, 757, 'Scaled CCS score', rotation=90, ha='center', va='center', fontsize=14)

fig_leg = [(67, 80, 56, 42.7, [('CC', PINK, 76, 86, 91), ('MC', GREEN, 76, 86, 109)]),
           (517, 80, 149, 49, [('receivers', PINK, 526, 537, 92), ('non−receivers', GREEN, 526, 537, 113)])]
for lx, ly, lw_, lh, rows in fig_leg:
    ov.add_patch(Rectangle((lx, ly), lw_, lh, fc='white', ec='black', lw=1.5, zorder=5))
    for lab, col, mx, tx, ty in rows:
        ov.plot([mx], [ty], 'o', color=col, ms=3.6, mew=0, zorder=6)
        ov.text(tx, ty, lab, va='center', fontsize=14, zorder=6)

for letter, lx, ly in [('A', 25, 14), ('B', 475, 14), ('C', 936, 13), ('D', 27, 562), ('E', 572, 562), ('F', 24, 1080),
                       ('G', 576, 1080), ('H', 1102, 1080), ('I', 27, 1633), ('J', 571, 1633), ('K', 1102, 1620)]:
    ov.text(lx, ly, letter, ha='center', va='center', fontsize=23)

# F-K
for (title, low, high, low_c, high_c, hi_lab, xt, xl, xtl, ptxt, ntxt), bx, txt in zip(km_panels, km_boxes, km_text):
    kx = box_axes(*bx)
    for pts, cens, col, lab in [(low, low_c, TEAL, 'TMT low'), (high, high_c, ORANGE, hi_lab)]:
        t, s = unzip(pts)
        kx.step(t, s, where='post', color=col, lw=2.7, label=lab, solid_joinstyle='miter')
        cens = np.array(cens, dtype=float)
        kx.plot(cens, s[np.searchsorted(t, cens, side='right') - 1], '+', color=col, ms=7, mew=1.2)
    kx.set_xlim(*xl)
    kx.set_ylim(-.04, 1.042)
    kx.set_xticks(list(xt))
    kx.set_xticklabels(xtl, rotation=65, style='italic', fontsize=12, ha='center')
    kx.tick_params(axis='x', pad=4)
    kx.set_yticks([0, .2, .4, .6, .8, 1])
    kx.set_yticklabels(['0.0', '0.2', '0.4', '0.6', '0.8', '1.0'])
    rot_y(kx)
    kx.legend(loc='upper right', frameon=False, fontsize=13.5, handlelength=1.25, labelspacing=.22, borderaxespad=0,
              borderpad=.25, handletextpad=.55, bbox_to_anchor=(.985, 1))
    ov.text(*txt[0], title, ha='center', va='center', fontsize=13.5)
    ov.text(*txt[1], 'Time (Days)', ha='center', va='center', fontsize=14)
    ov.text(*txt[2], 'Survival', rotation=90, ha='center', va='center', fontsize=14)
    ov.text(*txt[3], ptxt, va='center', fontsize=13.5)
    ov.text(*txt[4], ntxt, va='center', fontsize=13.5)

fig.savefig('out.png', dpi=100)
plt.close(fig)
